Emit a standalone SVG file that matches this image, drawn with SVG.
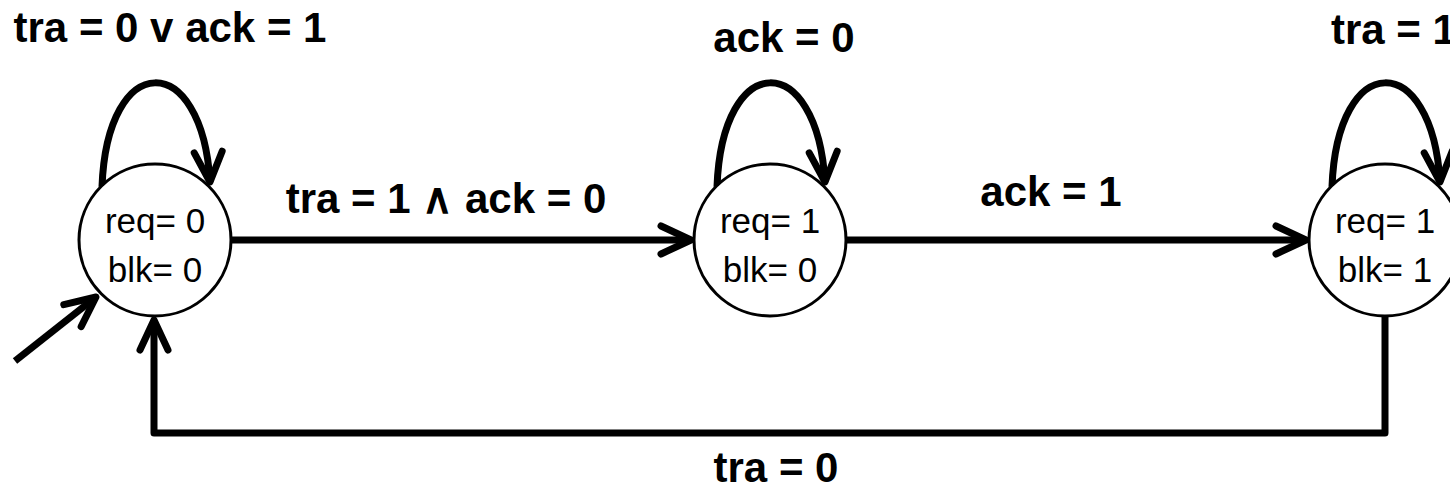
<svg xmlns="http://www.w3.org/2000/svg" width="1450" height="491" viewBox="0 0 1450 491">
  <style>
    .node circle { fill: #fff; stroke: #000; stroke-width: 3; }
    .node text { font-family: "Liberation Sans", Arial, sans-serif; font-size: 35px; fill: #000; text-anchor: middle; }
    .edge { fill: none; stroke: #000; stroke-width: 7; stroke-linejoin: round; marker-end: url(#arr); }
    .lbl { font-family: "Liberation Sans", Arial, sans-serif; font-size: 42px; font-weight: bold; fill: #000; text-anchor: middle; }
  </style>
  <defs>
    <marker id="arr" markerUnits="userSpaceOnUse" viewBox="-40 -25 50 50" refX="0" refY="0" markerWidth="50" markerHeight="50" orient="auto" overflow="visible">
      <path d="M-30,-14 L0,0 L-30,14" fill="none" stroke="#000" stroke-width="7" stroke-linecap="round" stroke-linejoin="round"/>
    </marker>
  </defs>
  <rect width="1450" height="491" fill="#fff"/>

  <g id="connectors">
    <path class="edge" d="M102,187 C107,49 202,49 210,182"/>
    <path class="edge" d="M717,187 C722,49 817,49 825,182"/>
    <path class="edge" d="M1332,187 C1337,49 1432,49 1440,182"/>
    <path class="edge" d="M231,240 L691,240"/>
    <path class="edge" d="M847,240 L1306,240"/>
    <path class="edge" d="M1385,316 L1385,433 L154,433 L154,320"/>
    <path class="edge" d="M15,361 L96,297"/>
  </g>

  <g id="node-s0" class="node">
    <circle cx="155" cy="240" r="76"/>
    <text x="155" y="233">req= 0</text>
    <text x="155" y="282">blk= 0</text>
  </g>
  <g id="node-s1" class="node">
    <circle cx="770" cy="240" r="76"/>
    <text x="770" y="233">req= 1</text>
    <text x="770" y="282">blk= 0</text>
  </g>
  <g id="node-s2" class="node">
    <circle cx="1385" cy="240" r="76"/>
    <text x="1385" y="233">req= 1</text>
    <text x="1385" y="282">blk= 1</text>
  </g>

  <g id="labels">
    <text class="lbl" x="170" y="42">tra = 0 v ack = 1</text>
    <text class="lbl" x="784" y="52">ack = 0</text>
    <text class="lbl" x="1331" y="44" style="text-anchor:start">tra = 1</text>
    <text class="lbl" x="446" y="213">tra = 1 ∧ ack = 0</text>
    <text class="lbl" x="1051" y="206">ack = 1</text>
    <text class="lbl" x="776" y="482">tra = 0</text>
  </g>
</svg>
